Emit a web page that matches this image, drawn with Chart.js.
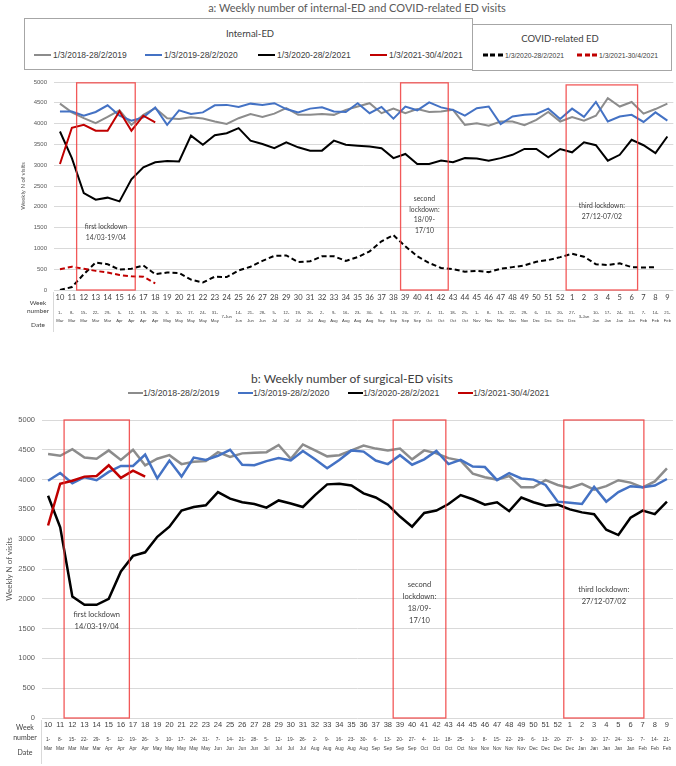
<!DOCTYPE html>
<html>
<head>
<meta charset="utf-8">
<script src="https://cdn.jsdelivr.net/npm/chart.js@4.4.1/dist/chart.umd.min.js"></script>
<style>
  body { margin: 0; background: #fff; }
  #page { position: relative; width: 676px; height: 766px; overflow: hidden; font-family: 'Liberation Sans', Arial, sans-serif; color: #404040; }
  .title { position: absolute; white-space: nowrap; font-family: Lato, sans-serif; transform: translate(-50%, -50%); }
  .box { position: absolute; border: 1px solid #a6a6a6; box-sizing: border-box; }
  .item { position: absolute; display: flex; align-items: center; white-space: nowrap; transform: translateY(-50%); }
  .swatch { display: inline-block; height: 2.5px; }
  canvas { position: absolute; left: 0; }
</style>
</head>
<body>
<div id="page">
  <div class="title" style="left:357px; top:7px; font-size:11px; color:#595959;">a: Weekly number of internal-ED and COVID-related ED visits</div>
  <div class="box" style="left:24px; top:18px; width:449px; height:52px;"></div>
  <div class="box" style="left:472px; top:24px; width:200px; height:47px;"></div>
  <div class="title" style="left:250px; top:33px; font-size:9.5px;">Internal-ED</div>
  <div class="title" style="left:560px; top:38px; font-size:9.5px;">COVID-related ED</div>
  <div id="legend-top"></div>
  <canvas id="chartA" width="676" height="270" style="top:70px;"></canvas>

  <div class="title" style="left:352px; top:378px; font-size:12px; color:#404040;">b: Weekly number of surgical-ED visits</div>
  <div id="legend-bottom"></div>
  <canvas id="chartB" width="676" height="361" style="top:405px;"></canvas>
</div>
<script>
// --- Categories ---
const weekNumbers = ['10','11','12','13','14','15','16','17','18','19','20','21','22','23','24','25','26','27','28','29',
    '30','31','32','33','34','35','36','37','38','39','40','41','42','43','44','45','46','47','48','49','50','51','52',
    '1','2','3','4','5','6','7','8','9'];
const weekDates = ['1-Mar','8-Mar','15-Mar','22-Mar','29-Mar','5-Apr','12-Apr','19-Apr','26-Apr','3-May','10-May','17-May',
    '24-May','31-May','7-Jun','14-Jun','21-Jun','28-Jun','5-Jul','12-Jul','19-Jul','26-Jul','2-Aug','9-Aug','16-Aug',
    '23-Aug','30-Aug','6-Sep','13-Sep','20-Sep','27-Sep','4-Oct','11-Oct','18-Oct','25-Oct','1-Nov','8-Nov','15-Nov',
    '22-Nov','29-Nov','6-Dec','13-Dec','20-Dec','27-Dec','3-Jan','10-Jan','17-Jan','24-Jan','31-Jan','7-Feb','14-Feb','21-Feb'];
const singleLineDatesTop = ['7-Jun', '3-Jan'];

const periodLabels = ['1/3/2018-28/2/2019', '1/3/2019-28/2/2020', '1/3/2020-28/2/2021', '1/3/2021-30/4/2021'];
const covidLabels = ['1/3/2020-28/2/2021', '1/3/2021-30/4/2021'];

// --- Panel a: internal-ED ---
const internal2019 = [4480,4270,4130,4010,4160,4320,3970,4210,4370,4130,
    4110,4150,4120,4050,3990,4130,4230,4160,4240,4370,
    4210,4210,4230,4210,4330,4410,4490,4250,4360,4250,
    4350,4280,4290,4330,3970,4010,3950,4050,4050,3960,
    4090,4280,4050,
    4160,4070,4190,4610,4410,4520,4240,4350,4480];
const internal2020 = [4290,4290,4190,4280,4440,4190,4070,4150,4390,3970,
    4320,4230,4270,4440,4450,4400,4480,4450,4490,4350,
    4270,4360,4390,4290,4280,4490,4250,4400,4120,4410,
    4320,4510,4390,4330,4190,4370,4410,3990,4170,4210,
    4230,4360,4110,
    4360,4160,4520,4050,4170,4210,4040,4270,4070];
const internal2021 = [3810,3170,2330,2170,2220,2130,2660,2950,3070,3100,
    3090,3710,3490,3720,3770,3890,3590,3510,3410,3550,
    3430,3350,3350,3590,3490,3470,3450,3410,3170,3270,
    3030,3030,3110,3070,3170,3160,3110,3170,3250,3390,
    3390,3190,3390,
    3310,3550,3480,3110,3250,3610,3480,3290,3690];
const internal2021b = [3030,3900,3970,3830,3830,4300,3830,4190,4030];
const covid2021 = [0,70,380,660,620,490,510,590,380,420,
    410,250,180,320,310,470,560,700,820,830,
    670,690,810,810,700,790,930,1170,1320,1050,
    810,650,530,500,440,460,430,510,550,590,
    680,720,790,
    870,800,620,600,640,550,540,550];
const covid2021b = [500,560,510,460,420,360,330,320,160];

// --- Panel b: surgical-ED ---
const surgical2019 = [4430,4400,4510,4370,4350,4490,4330,4500,4240,4350,
    4410,4260,4300,4310,4460,4380,4440,4450,4460,4580,
    4350,4590,4490,4390,4410,4490,4570,4520,4490,4520,
    4340,4490,4440,4360,4320,4100,4040,4000,4060,3870,
    3870,3990,3910,
    3860,3930,3830,3890,3990,3950,3870,3970,4190];
const surgical2020 = [3980,4110,3940,4040,3990,4130,4230,4230,4420,4020,
    4320,4050,4370,4330,4400,4500,4250,4240,4310,4360,
    4320,4480,4340,4190,4330,4490,4470,4320,4260,4410,
    4250,4340,4480,4260,4330,4220,4210,3990,4110,4020,
    4000,3910,3630,
    3610,3590,3880,3630,3790,3890,3870,3900,4010];
const surgical2021 = [3730,3200,2040,1900,1900,2000,2460,2720,2780,3040,
    3210,3480,3540,3570,3790,3680,3620,3590,3530,3650,
    3600,3540,3740,3920,3930,3900,3770,3700,3580,3380,
    3210,3440,3480,3590,3740,3670,3580,3620,3470,3700,
    3620,3560,3580,
    3500,3450,3420,3160,3070,3360,3480,3420,3630];
const surgical2021b = [3230,3930,3980,4050,4060,4240,4030,4150,4050];

// --- Lockdowns (week-index spans) ---
const lockdownNotes = [
    ['first lockdown', '14/03-19/04'],
    ['second', 'lockdown:', '18/09-', '17/10'],
    ['third lockdown:', '27/12-07/02']
];
const lockdownSpansA = [[1.4, 6.32], [28.6, 32.6], [42.5, 48.5]];
const lockdownSpansB = [[1.32, 6.7], [28.44, 32.78], [42.5, 49.1]];

const colors = ['#8c8c8c', '#4472c4', '#000000', '#c00000'];

// --- Legends (HTML) ---
function legendItem(parent, x, y, color, text, opt) {
    const el = document.createElement('div');
    el.className = 'item';
    el.style.left = x + 'px';
    el.style.top = y + 'px';
    el.style.fontSize = opt.font + 'px';
    const sw = document.createElement('span');
    sw.className = 'swatch';
    sw.style.width = opt.swatch + 'px';
    sw.style.marginRight = opt.gap + 'px';
    sw.style.background = opt.dashed
        ? `repeating-linear-gradient(90deg, ${color} 0 5px, transparent 5px 7.5px)`
        : color;
    el.appendChild(sw);
    el.appendChild(document.createTextNode(text));
    parent.appendChild(el);
}

const legTop = document.getElementById('legend-top');
[34, 145, 258, 370].forEach((x, i) => legendItem(legTop, x, 55, colors[i], periodLabels[i], {font: 8.5, swatch: 17, gap: 2}));
[483, 577].forEach((x, i) => legendItem(legTop, x, 55, colors[i + 2], covidLabels[i], {font: 6.8, swatch: 20, gap: 2, dashed: true}));

const legBot = document.getElementById('legend-bottom');
[128, 238, 348, 458].forEach((x, i) => legendItem(legBot, x, 393, colors[i], periodLabels[i], {font: 8.8, swatch: 15, gap: 0}));

// --- Plugins ---
const lockdownPlugin = {
    id: 'lockdowns',
    afterDatasetsDraw(chart, args, opts) {
        const {ctx, scales: {x, y}} = chart;
        ctx.save();
        opts.spans.forEach((s, i) => {
            const x0 = x.getPixelForValue(s[0]);
            const x1 = x.getPixelForValue(s[1]);
            const y0 = y.getPixelForValue(opts.tops[i]);
            const y1 = y.getPixelForValue(0);
            ctx.strokeStyle = 'rgba(240,60,60,0.85)';
            ctx.lineWidth = 1.3;
            ctx.strokeRect(x0, y0, x1 - x0, y1 - y0);
            ctx.font = opts.font;
            ctx.fillStyle = '#404040';
            ctx.textAlign = 'center';
            ctx.textBaseline = 'middle';
            const ty = y.getPixelForValue(opts.noteY[i]);
            lockdownNotes[i].forEach((line, k) => ctx.fillText(line, (x0 + x1) / 2, ty + k * opts.lineGap));
        });
        ctx.restore();
    }
};

const tablePlugin = {
    id: 'tableLabels',
    afterDraw(chart, args, opts) {
        const {ctx, chartArea} = chart;
        const b = chartArea.bottom;
        ctx.save();
        ctx.strokeStyle = '#d9d9d9';
        ctx.lineWidth = 1;
        ctx.beginPath();
        ctx.moveTo(chartArea.left - 0.5, b + 2);
        ctx.lineTo(chartArea.left - 0.5, b + opts.lineLen);
        ctx.stroke();
        ctx.font = opts.font;
        ctx.fillStyle = '#404040';
        ctx.textAlign = 'center';
        ctx.textBaseline = 'middle';
        ctx.fillText('Week', opts.x, b + opts.rows[0]);
        ctx.fillText('number', opts.x, b + opts.rows[1]);
        ctx.fillText('Date', opts.x, b + opts.rows[2]);
        ctx.restore();
    }
};

function lineSet(label, data, color, width, order, dashed) {
    return {
        label, data,
        borderColor: color,
        backgroundColor: color,
        borderWidth: width,
        borderDash: dashed ? [5, 3] : [],
        pointRadius: 0,
        tension: 0,
        fill: false,
        order
    };
}

function makeChart(id, cfg) {
    const dateLabels = weekDates.map(d => {
        if (cfg.singleDates.includes(d)) return d;
        const k = d.indexOf('-') + 1;
        return [d.slice(0, k), d.slice(k)];
    });
    return new Chart(document.getElementById(id), {
        type: 'line',
        data: { labels: weekNumbers, datasets: cfg.datasets },
        options: {
            responsive: false,
            animation: false,
            devicePixelRatio: 1,
            layout: { padding: cfg.padding },
            plugins: {
                legend: { display: false },
                tooltip: { enabled: false },
                lockdowns: cfg.lockdowns,
                tableLabels: cfg.table
            },
            scales: {
                x: {
                    type: 'category',
                    offset: true,
                    grid: { display: false, drawTicks: false },
                    border: { display: false },
                    ticks: { autoSkip: false, maxRotation: 0, minRotation: 0, padding: cfg.weekPad, color: '#404040', font: cfg.weekFont },
                    afterFit: s => { s.height = 18; }
                },
                x2: {
                    type: 'category',
                    position: 'bottom',
                    labels: dateLabels,
                    offset: true,
                    grid: { display: false, drawTicks: false },
                    border: { display: false },
                    ticks: { autoSkip: false, maxRotation: 0, minRotation: 0, crossAlign: 'center', padding: cfg.datePad, color: '#404040', font: cfg.dateFont },
                    afterFit: s => { s.height = cfg.dateHeight; }
                },
                y: {
                    min: 0, max: 5000,
                    grid: { color: '#d9d9d9', drawTicks: false },
                    border: { display: false },
                    ticks: { stepSize: 500, padding: 7, color: '#595959', font: cfg.yFont, callback: v => String(v) },
                    title: { display: true, text: 'Weekly N of visits', color: '#595959', font: cfg.yTitleFont, padding: { top: cfg.yTitlePad, bottom: 0 } },
                    afterFit: s => { s.width = cfg.yWidth; }
                }
            }
        },
        plugins: [lockdownPlugin, tablePlugin]
    });
}

makeChart('chartA', {
    datasets: [
        lineSet(periodLabels[0], internal2019, colors[0], 2, 5),
        lineSet(periodLabels[1], internal2020, colors[1], 2, 4),
        lineSet(periodLabels[2], internal2021, colors[2], 2, 3),
        lineSet(periodLabels[3], internal2021b, colors[3], 2, 2),
        lineSet('COVID ' + covidLabels[0], covid2021, colors[2], 2, 1, true),
        lineSet('COVID ' + covidLabels[1], covid2021b, colors[3], 2, 0, true)
    ],
    singleDates: singleLineDatesTop,
    padding: { top: 12, left: 0, right: 2, bottom: 2 },
    weekPad: 3.5, weekFont: { family: 'Lato', size: 7.5 },
    datePad: 5, dateFont: { family: 'Liberation Sans', size: 4.2, lineHeight: 1.9 }, dateHeight: 30,
    yFont: { family: 'Liberation Sans', size: 6 }, yWidth: 54,
    yTitleFont: { family: 'Lato', size: 6 }, yTitlePad: 19.5,
    lockdowns: { spans: lockdownSpansA, tops: [4980, 4980, 4930], noteY: [1514, 2188, 2019], lineGap: 10.5, font: '6.8px Lato' },
    table: { x: 38, rows: [13, 21, 35], lineLen: 42, font: '6.5px Lato' }
});

makeChart('chartB', {
    datasets: [
        lineSet(periodLabels[0], surgical2019, colors[0], 2.5, 3),
        lineSet(periodLabels[1], surgical2020, colors[1], 2.5, 2),
        lineSet(periodLabels[2], surgical2021, colors[2], 2.5, 1),
        lineSet(periodLabels[3], surgical2021b, colors[3], 2.5, 0)
    ],
    singleDates: [],
    padding: { top: 15, left: 0, right: 3, bottom: 2 },
    weekPad: 2.5, weekFont: { family: 'Liberation Sans', size: 7.5 },
    datePad: 3.5, dateFont: { family: 'Liberation Sans', size: 4.8, lineHeight: 1.875 }, dateHeight: 28,
    yFont: { family: 'Liberation Sans', size: 7.5 }, yWidth: 42,
    yTitleFont: { family: 'Lato', size: 8 }, yTitlePad: 5,
    lockdowns: { spans: lockdownSpansB, tops: [5000, 5000, 5000], noteY: [1730, 2231, 2148], lineGap: 12, font: '7.5px Lato' },
    table: { x: 25, rows: [10, 20, 35], lineLen: 46, font: '7px Lato' }
});
</script>
</body>
</html>
